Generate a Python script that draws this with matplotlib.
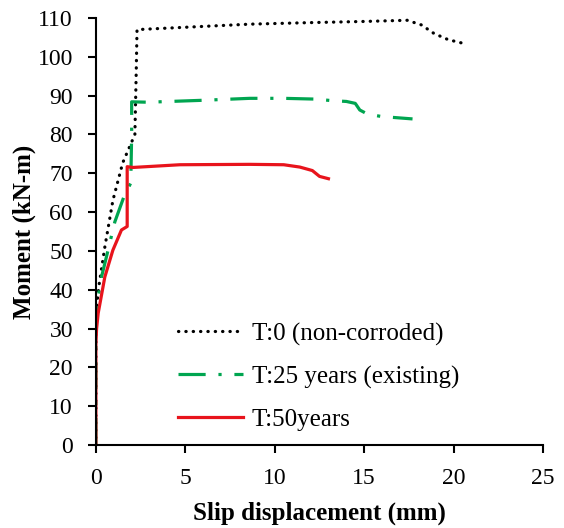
import numpy as np
import matplotlib.pyplot as plt

plt.rcParams['font.family'] = ['Liberation Serif', 'DejaVu Serif']

# T:0 (non-corroded)
x_t0 = [0, 0, 0.05, 0.17, 0.5, 0.95, 1.5, 2.18, 2.25, 2.3, 5.0, 8.6, 12.0, 15.0,
        17.4, 18.2, 18.9, 19.7, 20.5]
y_t0 = [0, 30, 36, 41, 51, 63, 72.7, 80, 95, 107, 107.6, 108.4, 108.8, 109.1,
        109.4, 108.2, 106, 104.4, 103.5]

# T:25 years (existing)
x_t25 = [0, 0, 0.05, 0.32, 0.67, 1.06, 1.57, 1.95, 2.0, 2.0, 2.9, 6.0, 8.6, 10.5,
         12.3, 13.2, 14.0, 14.5, 14.75, 15.2, 16.0, 17.7]
y_t25 = [0, 30, 36, 43.4, 50, 57.5, 64, 67.5, 80, 88.4, 88.3, 88.8, 89.3, 89.3,
         89.1, 88.7, 88.5, 88.0, 86.3, 85.2, 84.6, 84.0]

# T:50years
x_t50 = [0, 0, 0.04, 0.13, 0.5, 0.95, 1.43, 1.75, 1.75, 2.07, 4.7, 8.6, 10.5,
         11.4, 12.1, 12.5, 13.0]
y_t50 = [0, 26, 30, 34, 43.3, 50.2, 55.4, 56.3, 71.7, 71.5, 72.2, 72.3, 72.2,
         71.6, 70.7, 69.2, 68.6]

fig = plt.figure(figsize=(5.64, 5.28), dpi=100)
ax = fig.add_axes([0.170, 0.157, 0.793, 0.809])

ax.plot(x_t0, y_t0, color='black', linewidth=2.3, linestyle=(0, (0.1, 2.2)),
        dash_capstyle='round', label='T:0 (non-corroded)')
ax.plot(x_t25, y_t25, color='#00A550', linewidth=2.3, linestyle=(0, (8.5, 4, 1, 4)),
        label='T:25 years (existing)')
ax.plot(x_t50, y_t50, color='#E8141C', linewidth=2.3, label='T:50years')

ax.set_xlim(0, 25)
ax.set_ylim(0, 110)
ax.set_xticks(np.arange(0, 26, 5))
ax.set_yticks(np.arange(0, 111, 10))
ax.spines['top'].set_visible(False)
ax.spines['right'].set_visible(False)
ax.spines['left'].set_linewidth(1.5)
ax.spines['bottom'].set_linewidth(1.5)
ax.tick_params(direction='out', length=6, width=1.5, labelsize=17, pad=10.5)

ax.set_xlabel('Slip displacement (mm)', fontsize=18, fontweight='bold', labelpad=9)
ax.set_ylabel('Moment (kN-m)', fontsize=18, fontweight='bold', labelpad=1)

ax.legend(loc='lower left', bbox_to_anchor=(0.133, -0.02), frameon=False,
          fontsize=18, handlelength=2.6, handletextpad=0.35, labelspacing=0.8)

plt.savefig('out.png', dpi=100)
plt.close()
